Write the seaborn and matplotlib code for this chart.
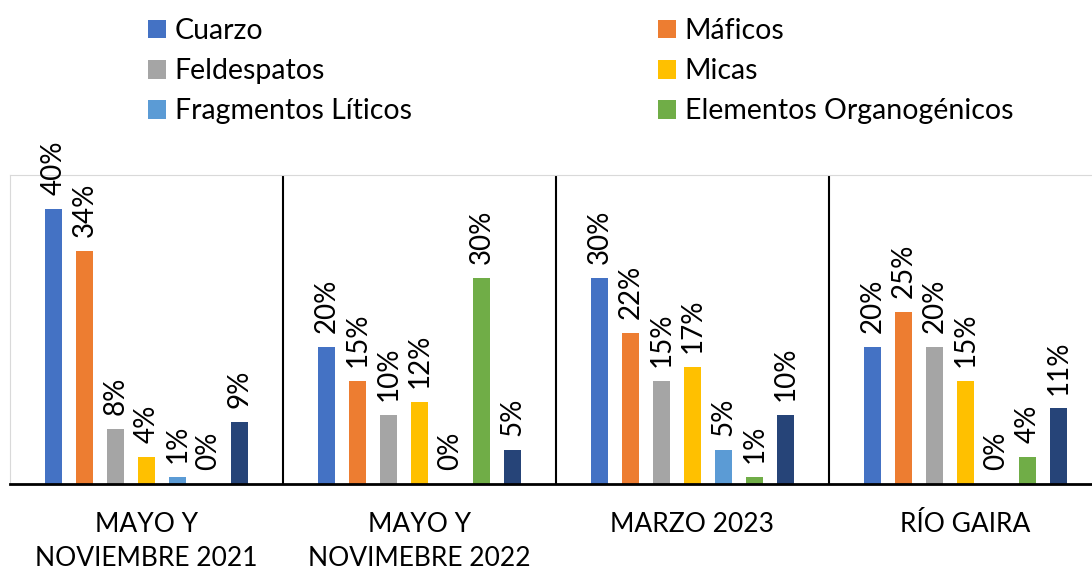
import pandas as pd
import matplotlib.pyplot as plt
import seaborn as sns
from matplotlib.patches import Patch

# datos (porcentajes)
grupos = ['MAYO Y\nNOVIEMBRE 2021', 'MAYO Y\nNOVIMEBRE 2022', 'MARZO 2023', 'RÍO GAIRA']
minerales = ['Cuarzo', 'Máficos', 'Feldespatos', 'Micas',
             'Fragmentos Líticos', 'Elementos Organogénicos', 'Otros']
cuarzo = [40, 20, 30, 20]
maficos = [34, 15, 22, 25]
feldespatos = [8, 10, 15, 20]
micas = [4, 12, 17, 15]
fragmentos = [1, 0, 5, 0]
organogenicos = [0, 30, 1, 4]
otros = [9, 5, 10, 11]

colores = ['#4472C4', '#ED7D31', '#A5A5A5', '#FFC000', '#5B9BD5', '#70AD47', '#264478']

series = [cuarzo, maficos, feldespatos, micas, fragmentos, organogenicos, otros]
filas = []
for mineral, valores in zip(minerales, series):
    for grupo, v in zip(grupos, valores):
        filas.append({'grupo': grupo, 'mineral': mineral, 'valor': v})
df = pd.DataFrame(filas)

plt.rcParams['font.family'] = ['Lato', 'DejaVu Sans']

fig = plt.figure(figsize=(10.92, 5.70), dpi=100)
ax = fig.add_axes([10/1092, 86/570, 1092/1092, 309/570])

sns.barplot(data=df, x='grupo', y='valor', hue='mineral', order=grupos,
            hue_order=minerales, palette=colores, saturation=1,
            width=0.795, gap=0.48, legend=False, ax=ax)

for c in ax.containers:
    ax.bar_label(c, fmt='%g%%', rotation=90, padding=10, fontsize=20)

ax.set_xlim(-0.5, 3.5)
ax.set_ylim(0, 45)
ax.set_yticks([])
ax.set_xlabel('')
ax.set_ylabel('')
ax.tick_params(axis='x', length=0, pad=20, labelsize=19)
for lab in ax.get_xticklabels():
    lab.set_linespacing(1.45)

for sep in [0.5, 1.5, 2.5]:
    ax.axvline(sep, color='black', linewidth=1.5)

ax.spines['bottom'].set_color('black')
ax.spines['bottom'].set_linewidth(2)
ax.spines['top'].set_color('#d9d9d9')
ax.spines['left'].set_color('#d9d9d9')
ax.spines['right'].set_visible(False)

# leyenda en dos columnas
col1 = [0, 2, 4]
col2 = [1, 3, 5]
for idx, x0 in [(col1, 148), (col2, 658)]:
    handles = [Patch(facecolor=colores[i], label=minerales[i]) for i in idx]
    fig.legend(handles=handles, loc='upper left',
               bbox_to_anchor=(x0/1092, 1 - 18/570), frameon=False,
               fontsize=20.5, handlelength=0.64, handleheight=0.64,
               handletextpad=0.3, labelspacing=0.5,
               borderpad=0, borderaxespad=0)

fig.savefig('out.png', dpi=100)
